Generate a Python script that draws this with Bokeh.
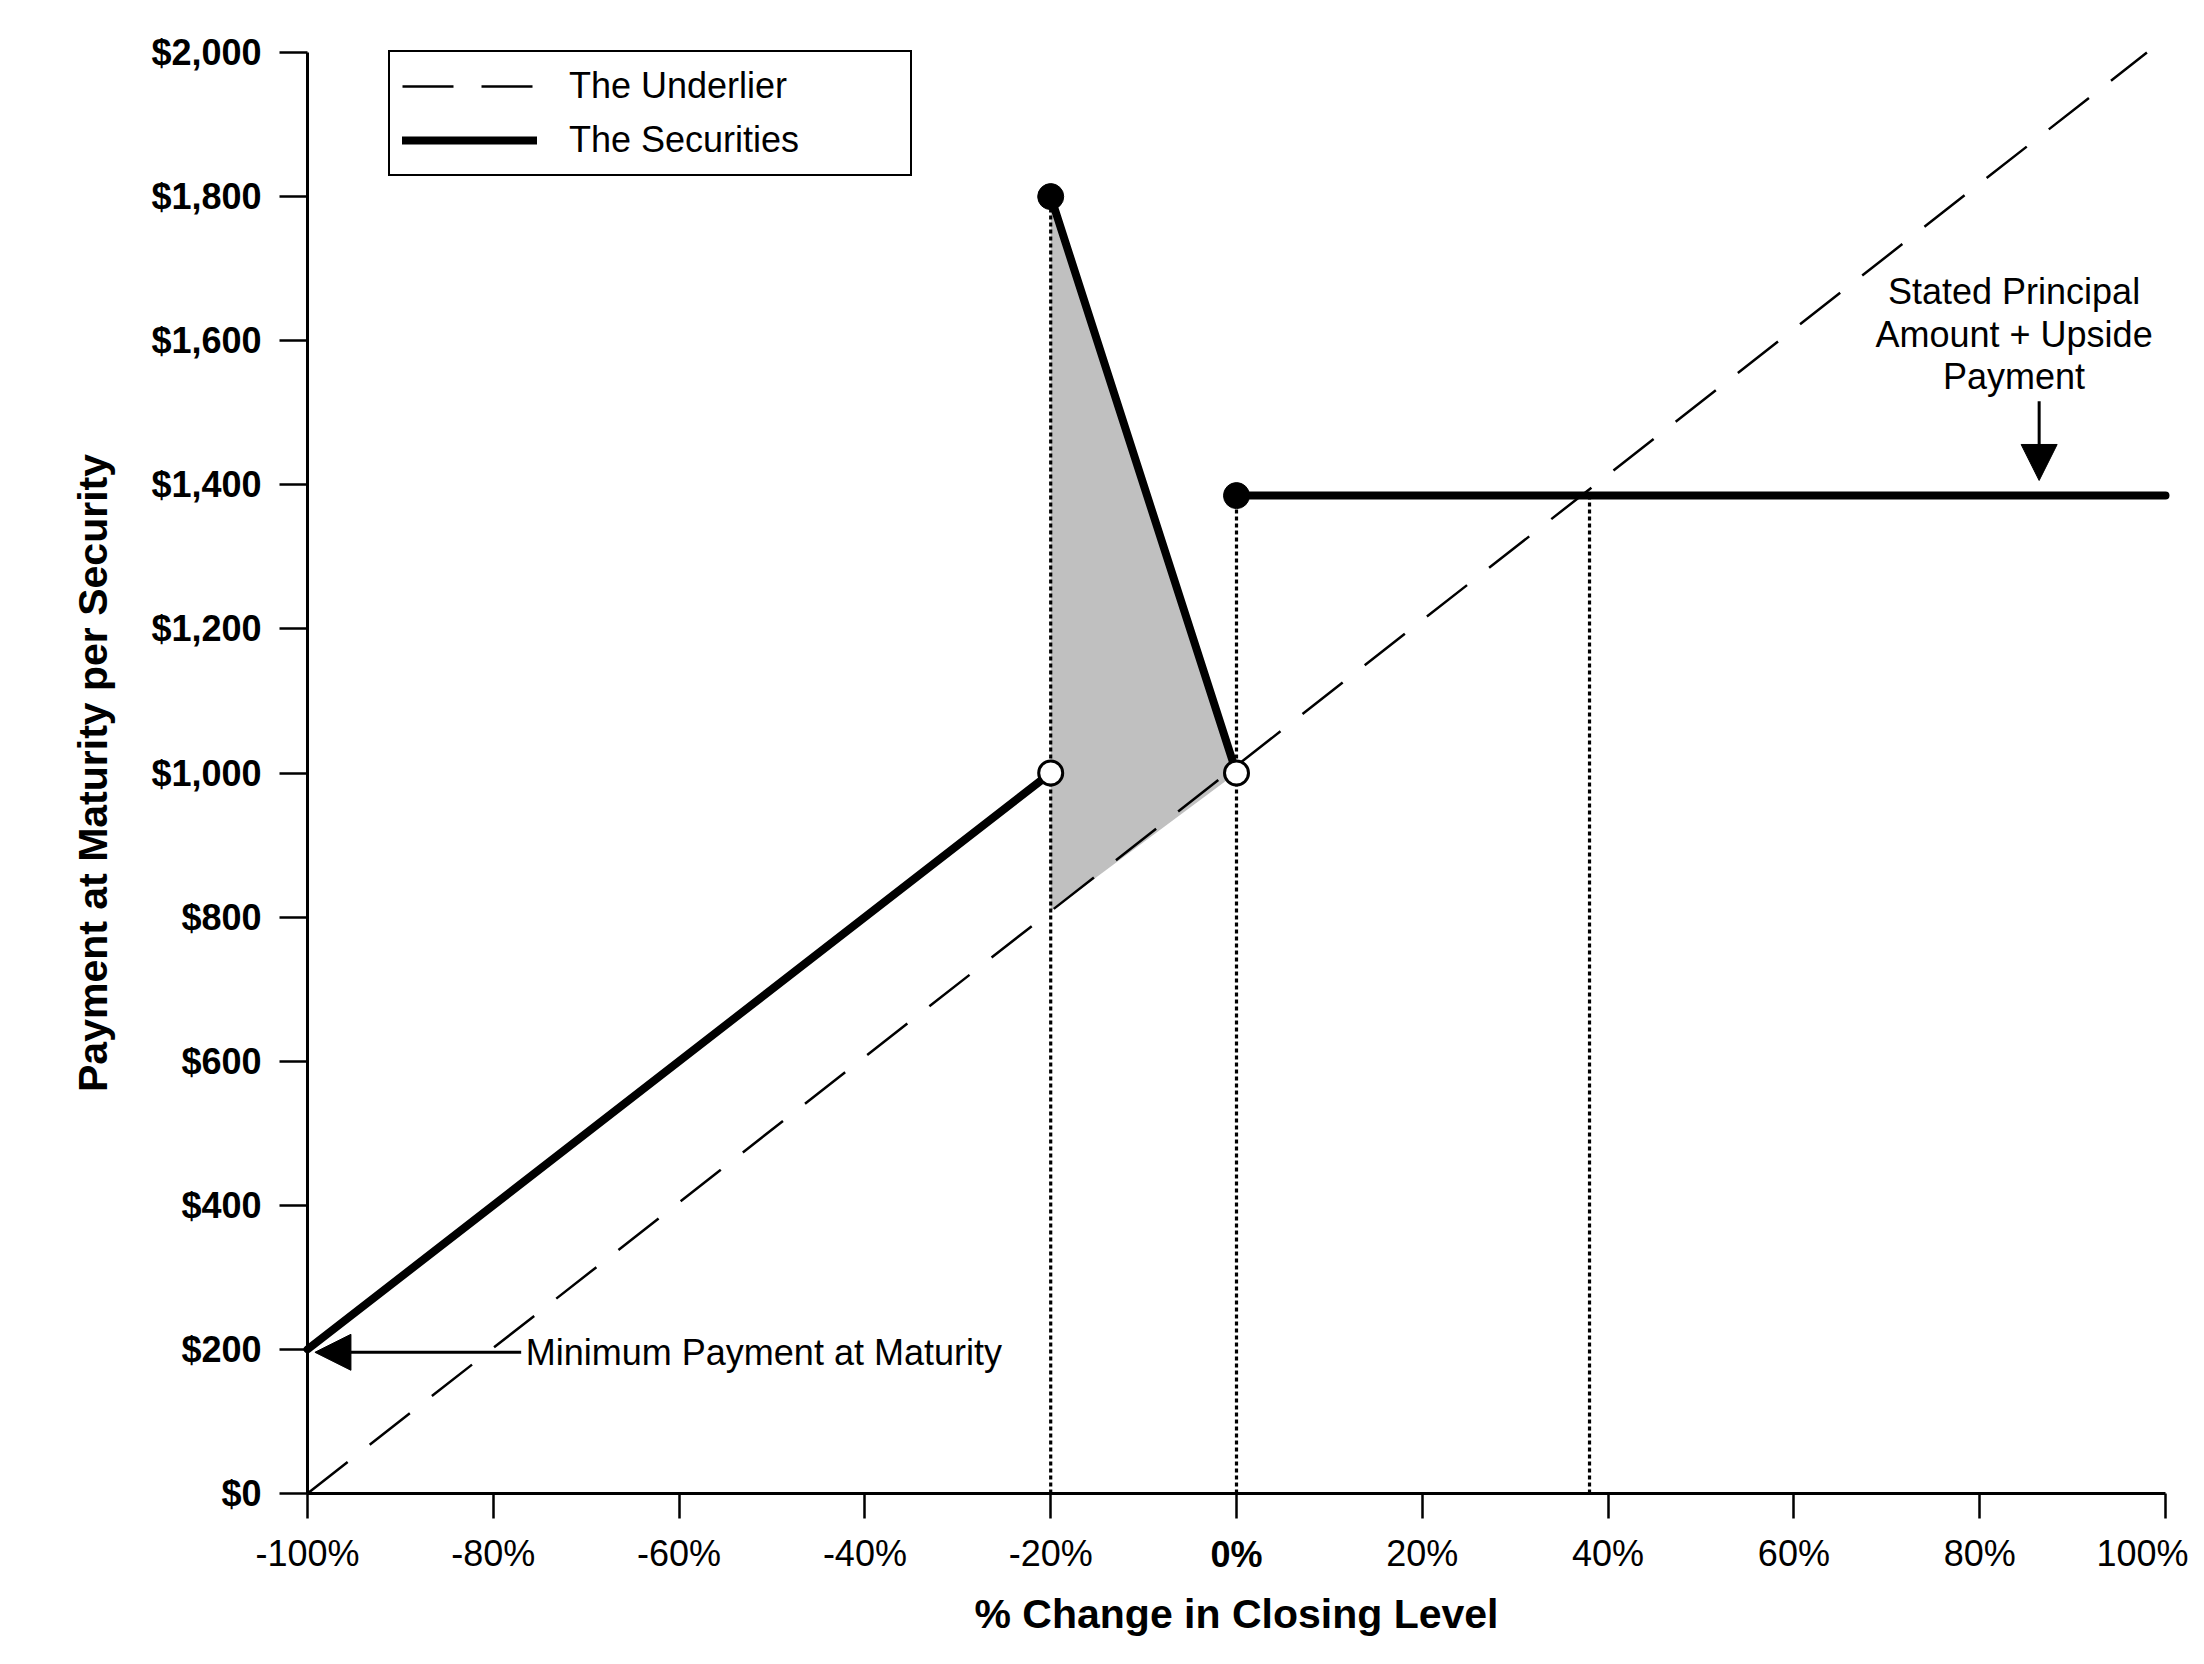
import math
from bokeh.plotting import figure
from bokeh.models import (Range1d, FixedTicker, NumeralTickFormatter, Label, Arrow,
                          NormalHead, Legend, LegendItem)
from bokeh.embed import file_html
from bokeh.resources import INLINE

FONT = "Liberation Sans"
NAN = math.nan

# ---- data ----
x_ticks = [-100, -80, -60, -40, -20, 0, 20, 40, 60, 80, 100]
x_tick_labels = ["-100%", "-80%", "-60%", "-40%", "-20%", "0%", "20%", "40%", "60%", "80%", "100%"]
y_ticks = [0, 200, 400, 600, 800, 1000, 1200, 1400, 1600, 1800, 2000]

underlier_x = [-100, 98]
underlier_y = [0, 2000]

securities_x = [-100, -20, NAN, -20, 0, NAN, 0, 100]
securities_y = [200, 1000, NAN, 1800, 1000, NAN, 1385, 1385]

filled_x = [-20, 0]
filled_y = [1800, 1385]
open_x = [-20, 0]
open_y = [1000, 1000]

shade_x = [-20, 0, -20]
shade_y = [1800, 1000, 808]

ref_x = [-20, 0, 38]
ref_bottom = [0, 0, 0]
ref_top = [1800, 1385, 1385]

# ---- layout geometry (pixels) ----
W, H = 2188, 1648
AX_L, AX_R = 307, 2165           # pixel columns of -100% and 100%
AX_T, AX_B = 52, 1493            # pixel rows of $2,000 and $0
kx = (AX_R - AX_L) / 200.0
ky = (AX_B - AX_T) / 2000.0
x_lo, x_hi = -100 - AX_L / kx, 100 + (W - AX_R) / kx
y_lo, y_hi = -(H - AX_B) / ky, 2000 + AX_T / ky

p = figure(width=W, height=H, output_backend="svg", toolbar_location=None,
           x_range=Range1d(x_lo, x_hi), y_range=Range1d(y_lo, y_hi),
           min_border_left=0, min_border_right=0, min_border_top=0, min_border_bottom=0)
p.outline_line_color = None
p.grid.visible = False
p.background_fill_color = "white"
p.border_fill_color = "white"

# shaded area
p.patch(shade_x, shade_y, fill_color="#C0C0C0", line_color=None)

# dotted reference lines
p.segment(x0=ref_x, y0=ref_bottom, x1=ref_x, y1=ref_top, line_color="black",
          line_width=3.2, line_dash="4 3")

# underlier
r_und = p.line(underlier_x, underlier_y, line_color="black", line_width=2.5, line_dash="51 28")

# securities
r_sec = p.line(securities_x, securities_y, line_color="black", line_width=8, line_cap="round")

p.scatter(filled_x, filled_y, size=26, fill_color="black", line_color="black")
p.scatter(open_x, open_y, size=24, fill_color="white", line_color="black", line_width=3)

# ---- axes ----
xa = p.xaxis[0]
xa.fixed_location = 0
xa.bounds = (-100, 100)
xa.ticker = FixedTicker(ticks=x_ticks)
xa.major_label_overrides = {t: ("" if t == 0 else l) for t, l in zip(x_ticks, x_tick_labels)}
xa.minor_tick_line_color = None
xa.major_tick_in = 0
xa.major_tick_out = 25
xa.major_tick_line_width = 2.5
xa.axis_line_width = 3
xa.major_label_standoff = 14
xa.major_label_text_font = FONT
xa.major_label_text_font_size = "36px"
xa.major_label_text_color = "black"
xa.axis_label = "% Change in Closing Level"
xa.axis_label_text_font = FONT
xa.axis_label_text_font_size = "41px"
xa.axis_label_text_font_style = "bold"
xa.axis_label_text_color = "black"
xa.axis_label_standoff = 14

ya = p.yaxis[0]
ya.fixed_location = -100
ya.bounds = (0, 2000)
ya.ticker = FixedTicker(ticks=y_ticks)
ya.formatter = NumeralTickFormatter(format="$0,0")
ya.minor_tick_line_color = None
ya.major_tick_in = 0
ya.major_tick_out = 28
ya.major_tick_line_width = 2.5
ya.axis_line_width = 3
ya.major_label_standoff = 18
ya.major_label_text_font = FONT
ya.major_label_text_font_size = "36px"
ya.major_label_text_font_style = "bold"
ya.major_label_text_color = "black"
ya.axis_label = "Payment at Maturity per Security"
ya.axis_label_text_font = FONT
ya.axis_label_text_font_size = "41px"
ya.axis_label_text_font_style = "bold"
ya.axis_label_text_color = "black"
ya.axis_label_standoff = 32

# bold "0%" tick label
p.add_layout(Label(x=x_ticks[5], y=0, y_offset=-40, text=x_tick_labels[5], text_font=FONT,
                   text_font_size="36px", text_font_style="bold", text_align="center",
                   text_baseline="top", text_color="black"))

# ---- legend ----
legend = Legend(items=[LegendItem(label="The Underlier", renderers=[r_und]),
                       LegendItem(label="The Securities", renderers=[r_sec])],
                location=(388, H - 176), margin=0, padding=12, spacing=10,
                glyph_width=135, glyph_height=44, label_height=44, label_width=329,
                label_standoff=32, label_text_font=FONT, label_text_font_size="36px",
                label_text_color="black", label_text_baseline="middle",
                border_line_color="black", border_line_width=2.5, border_line_alpha=1.0,
                background_fill_color="white", background_fill_alpha=1.0)
p.add_layout(legend)

# ---- annotations ----
p.add_layout(Arrow(end=NormalHead(size=36, fill_color="black", line_color="black"),
                   x_start=-77, y_start=196, x_end=-99.2, y_end=196,
                   line_color="black", line_width=3))
p.add_layout(Label(x=-76.5, y=196, text="Minimum Payment at Maturity", text_font=FONT,
                   text_font_size="36px", text_baseline="middle", text_color="black"))

for txt, yy in [("Stated Principal", 1668), ("Amount + Upside", 1609), ("Payment", 1550)]:
    p.add_layout(Label(x=83.7, y=yy, text=txt, text_font=FONT, text_font_size="36px",
                       text_align="center", text_baseline="alphabetic", text_color="black"))
p.add_layout(Arrow(end=NormalHead(size=36, fill_color="black", line_color="black"),
                   x_start=86.4, y_start=1516, x_end=86.4, y_end=1406,
                   line_color="black", line_width=3))

open("out.html", "w").write(file_html(p, INLINE))
